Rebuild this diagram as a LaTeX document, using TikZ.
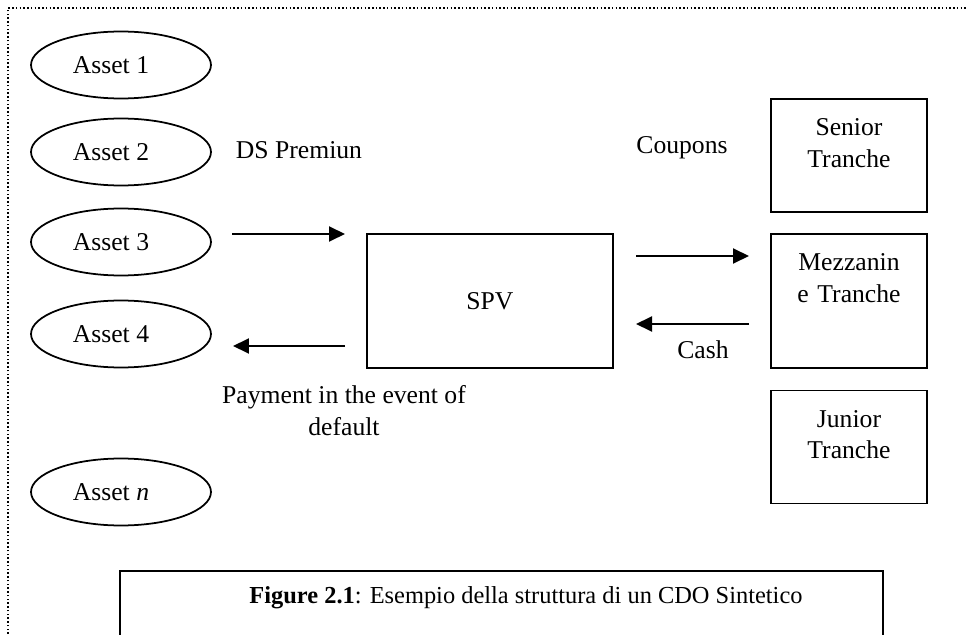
\documentclass[tikz,border=0pt]{standalone}
\usepackage{fontspec}
\setmainfont{Liberation Serif}
\usetikzlibrary{positioning,shapes.geometric,arrows.meta}

\begin{document}
\begin{tikzpicture}[
		x=0.02cm, y=-0.02cm,
		>={Triangle[length=0.32cm,width=0.3cm]},
		every node/.style={font=\fontsize{14.6}{18.2}\selectfont},
		asset/.style={draw, ellipse, line width=1pt, minimum width=3.6cm, minimum height=1.34cm, inner sep=0pt,
			execute at end node={\hspace{0.4cm}}},
		spvbox/.style={draw, line width=1.1pt, minimum width=4.92cm, minimum height=2.68cm},
		tranche/.style={draw, line width=1.1pt, align=center, inner sep=0pt, text width=3.12cm, text height=0.73cm},
		flow/.style={->, line width=1.1pt},
		capframe/.style={line width=1.1pt},
		border/.style={line width=0.85pt, dash pattern=on 0.03cm off 0.045cm}
	]
	\useasboundingbox (0,0) rectangle (968,635);
	\draw[border] (8,645) -- (8,8) -- (966,8);
	
	% reference assets
	\node(asset1)[asset] at (121,65) {Asset 1};
	\node(asset2)[asset] at (121,152) {Asset 2};
	\node(asset3)[asset] at (121,242) {Asset 3};
	\node(asset4)[asset] at (121,334) {Asset 4};
	\node(assetn)[asset] at (121,492) {Asset \textit{n}};
	
	\node(spv)[spvbox] at (490,301) {SPV};
	
	% tranches
	\node(senior)[tranche, text depth=1.53cm] at (849,155.5) {Senior\\Tranche};
	\node(mezz)[tranche, text depth=1.95cm] at (849,301) {Mezzanin\\e Tranche};
	\node(junior)[tranche, text depth=1.53cm] at (849,447) {Junior\\Tranche};
	
	% arrow ends
	\coordinate(premS) at (232,234);
	\coordinate(premE) at (345,234);
	\coordinate(payS) at (345,346);
	\coordinate(payE) at (233,346);
	\coordinate(coupS) at (636,256);
	\coordinate(coupE) at (749,256);
	\coordinate(cashS) at (749,324);
	\coordinate(cashE) at (636,324);
	
	\draw[flow] (premS) -- (premE);
	\draw[flow] (payS) -- (payE);
	\draw[flow] (coupS) -- (coupE);
	\draw[flow] (cashS) -- (cashE);
	
	\node(premium) at (299,150) {DS Premiun};
	\node(coupons) at (682,148) {Coupons};
	\node(cash) at (703,350) {Cash};
	\node(payment)[align=center] at (344,411) {Payment in the event of\\default};
	
	% caption
	\draw[capframe] (120,645) |- (883,571) -- (883,645);
	\node(caption)[font=\fontsize{13.9}{17}\selectfont] at (526,598) {\textbf{Figure 2.1}: Esempio della struttura di un CDO Sintetico};
	
\end{tikzpicture}
\end{document}
